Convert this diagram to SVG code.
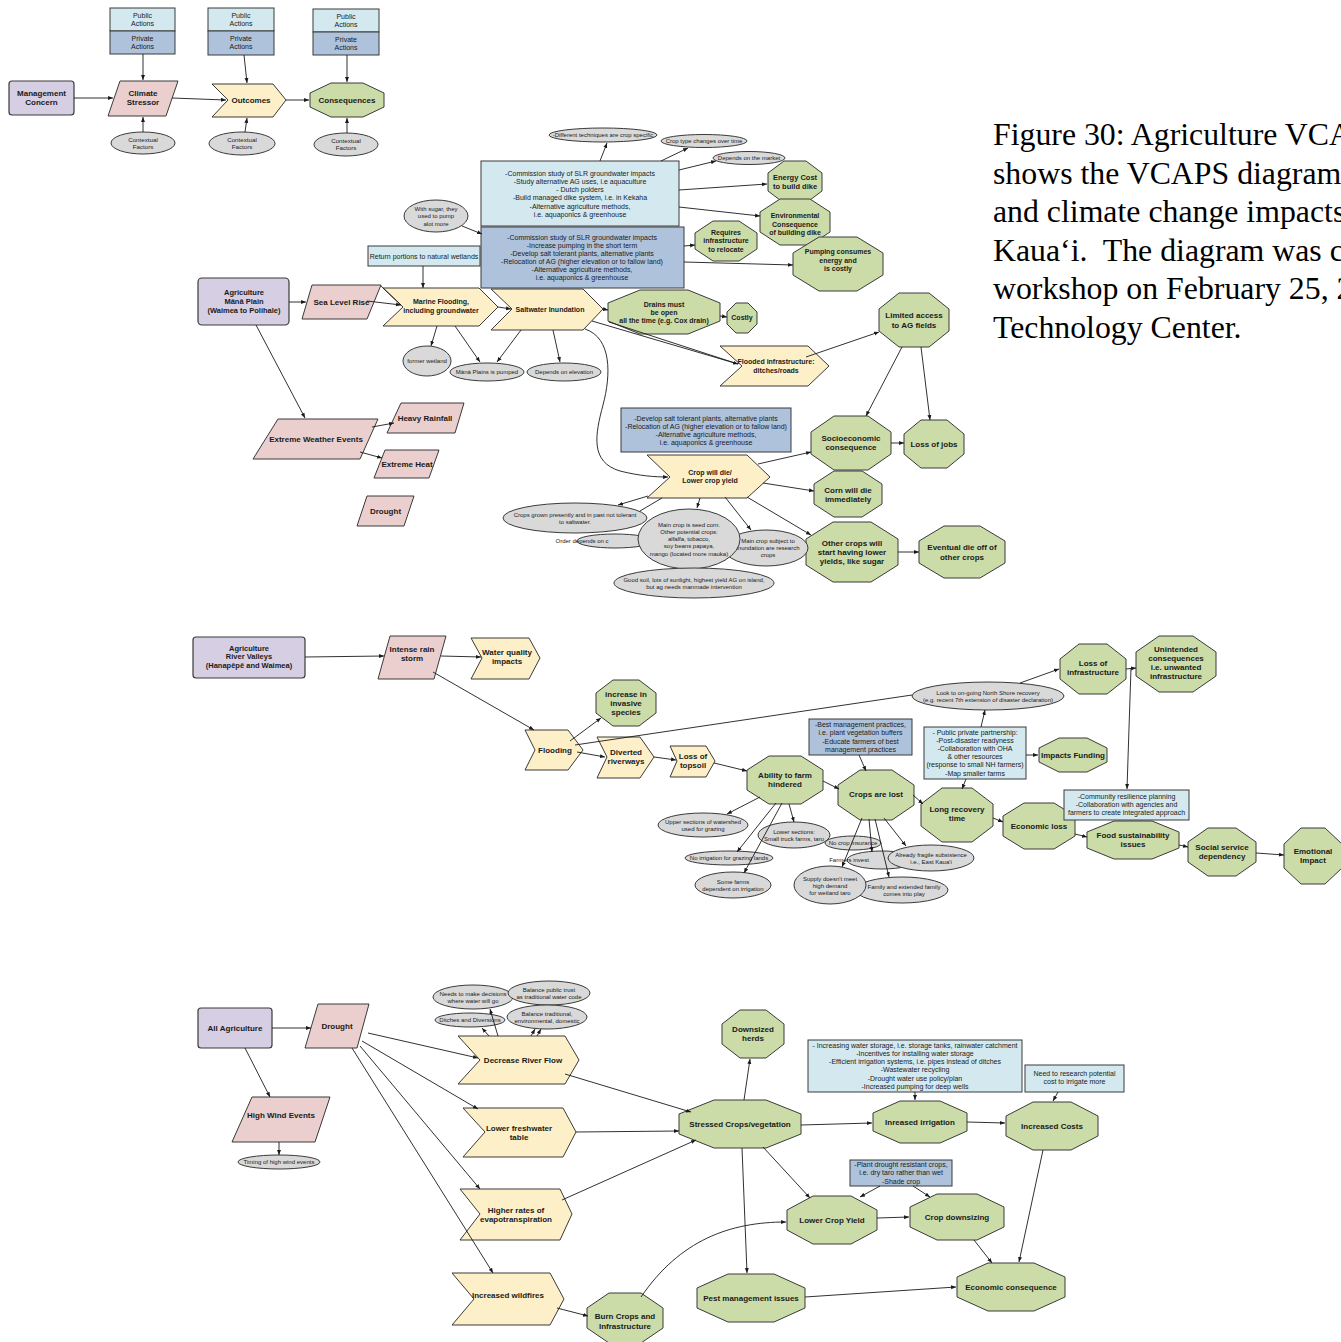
<svg xmlns="http://www.w3.org/2000/svg" width="1341" height="1342" viewBox="0 0 1341 1342">
<defs>
<marker id="a" viewBox="0 0 10 10" refX="10" refY="5" markerWidth="5.5" markerHeight="5.5" orient="auto"><path d="M0,1 L10,5 L0,9 z" fill="#1a1a1a"/></marker>
<style>
.mc{fill:#d6cee3;stroke:#3a3a3a;stroke-width:1.2}
.cs{fill:#eacfce;stroke:#3a3a3a;stroke-width:1}
.oc{fill:#fdf0c8;stroke:#3a3a3a;stroke-width:1}
.cq{fill:#cbdca8;stroke:#3a3a3a;stroke-width:1}
.pub{fill:#d3e9ef;stroke:#3a3a3a;stroke-width:1}
.prv{fill:#afc2dc;stroke:#3a3a3a;stroke-width:1}
.ctx{fill:#d9d9d9;stroke:#3a3a3a;stroke-width:1}
text{font-family:"Liberation Sans",Arial,sans-serif;text-anchor:middle;fill:#1a1a1a}
.b{font-weight:bold;font-size:8px}
.nb{font-weight:bold;font-size:7px}
.n{font-size:7px}
.lg{font-size:7px}
.cf{font-size:6.2px}
.e{font-size:6px}
.cap{font-family:"Liberation Serif","Times New Roman",serif;font-size:31.8px;text-anchor:start;fill:#000}
.c{fill:none;stroke:#1a1a1a;stroke-width:0.9;marker-end:url(#a)}
.l{fill:none;stroke:#1a1a1a;stroke-width:0.9}
</style>
</defs>
<rect width="1341" height="1342" fill="#fff"/>

<g id="caption">
<text class="cap" x="993" y="145">Figure 30: Agriculture VCA</text>
<text class="cap" x="993" y="183.5">shows the VCAPS diagram</text>
<text class="cap" x="993" y="222">and climate change impacts</text>
<text class="cap" x="993" y="260.5">Kaua‘i.&#160; The diagram was c</text>
<text class="cap" x="993" y="299">workshop on February 25, 2</text>
<text class="cap" x="993" y="337.5">Technology Center.</text>
</g>

<!-- Legend -->
<g id="legend-actions-1"><rect class="pub" x="110" y="8" width="65" height="23"/><rect class="prv" x="110" y="31" width="65" height="23"/>
<text class="lg" x="142.5" y="17.5">Public</text><text class="lg" x="142.5" y="25.5">Actions</text><text class="lg" x="142.5" y="40.5">Private</text><text class="lg" x="142.5" y="48.5">Actions</text></g>
<g id="legend-actions-2"><rect class="pub" x="208" y="8" width="66" height="23"/><rect class="prv" x="208" y="31" width="66" height="24"/>
<text class="lg" x="241" y="17.5">Public</text><text class="lg" x="241" y="25.5">Actions</text><text class="lg" x="241" y="40.5">Private</text><text class="lg" x="241" y="48.5">Actions</text></g>
<g id="legend-actions-3"><rect class="pub" x="313" y="9" width="66" height="23"/><rect class="prv" x="313" y="32" width="66" height="23"/>
<text class="lg" x="346" y="18.5">Public</text><text class="lg" x="346" y="26.5">Actions</text><text class="lg" x="346" y="41.5">Private</text><text class="lg" x="346" y="49.5">Actions</text></g>
<g id="legend-mc"><rect class="mc" x="9" y="81" width="65" height="34" rx="3"/><text class="b" x="41.5" y="96">Management</text><text class="b" x="41.5" y="105">Concern</text></g>
<g id="legend-cs"><polygon class="cs" points="120,81 178,81 166,116 108,116"/><text class="b" x="143" y="96">Climate</text><text class="b" x="143" y="105">Stressor</text></g>
<g id="legend-oc"><polygon class="oc" points="212,84 273,84 286,100 273,117 212,117 228,100"/><text class="b" x="251" y="102.8">Outcomes</text></g>
<g id="legend-cq"><polygon class="cq" points="331,83 363,83 384,93 384,107 363,117 331,117 310,107 310,93"/><text class="b" x="347" y="102.8">Consequences</text></g>
<g id="legend-ctx-1"><ellipse class="ctx" cx="143" cy="143" rx="32" ry="11"/><text class="cf" x="143" y="141.5">Contextual</text><text class="cf" x="143" y="148.8">Factors</text></g>
<g id="legend-ctx-2"><ellipse class="ctx" cx="242" cy="143.5" rx="33" ry="11.5"/><text class="cf" x="242" y="142">Contextual</text><text class="cf" x="242" y="149.3">Factors</text></g>
<g id="legend-ctx-3"><ellipse class="ctx" cx="346" cy="144.5" rx="32" ry="11.5"/><text class="cf" x="346" y="143">Contextual</text><text class="cf" x="346" y="150.3">Factors</text></g>

<!-- Section 1: Mana Plain -->
<g id="e-different"><ellipse class="ctx" cx="603" cy="135" rx="54" ry="7"/><text class="e" x="603" y="137.1">-Different techniques are crop specific</text></g>
<g id="e-croptype"><ellipse class="ctx" cx="704" cy="141" rx="43" ry="6.5"/><text class="e" x="704" y="143.1">Crop type changes over time</text></g>
<g id="e-market"><ellipse class="ctx" cx="749" cy="158" rx="36" ry="6.5"/><text class="e" x="749" y="160.1">Depends on the market</text></g>
<g id="pub-slr"><rect class="pub" x="481" y="161" width="198" height="65"/>
<text class="n" x="580" y="175.7">-Commission study of SLR groundwater impacts</text>
<text class="n" x="580" y="183.9">-Study alternative AG uses, i.e aquaculture</text>
<text class="n" x="580" y="192.1">- Dutch polders</text>
<text class="n" x="580" y="200.3">-Build managed dike system, i.e. in Kekaha</text>
<text class="n" x="580" y="208.5">-Alternative agriculture methods,</text>
<text class="n" x="580" y="216.7">i.e. aquaponics &amp; greenhouse</text></g>
<g id="prv-slr"><rect class="prv" x="481" y="227" width="203" height="61"/>
<text class="n" x="582" y="239.7">-Commission study of SLR groundwater impacts</text>
<text class="n" x="582" y="247.8">-Increase pumping in the short term</text>
<text class="n" x="582" y="255.9">-Develop salt tolerant plants, alternative plants</text>
<text class="n" x="582" y="264">-Relocation of AG (higher elevation or to fallow land)</text>
<text class="n" x="582" y="272.1">-Alternative agriculture methods,</text>
<text class="n" x="582" y="280.2">i.e. aquaponics &amp; greenhouse</text></g>
<g id="e-sugar"><ellipse class="ctx" cx="436" cy="216" rx="32" ry="16"/><text class="e" x="436" y="210.6">With sugar, they</text><text class="e" x="436" y="218.1">used to pump</text><text class="e" x="436" y="225.6">alot more</text></g>
<g id="pub-wetlands"><rect class="pub" x="368" y="246" width="112" height="20"/><text class="n" x="424" y="258.5">Return portions to natural wetlands</text></g>
<g id="cq-energy"><polygon class="cq" points="784,161 806,161 822,173 822,191 806,203 784,203 768,191 768,173"/><text class="b" x="795" y="180" style="font-size:7.5px">Energy Cost</text><text class="b" x="795" y="188.5" style="font-size:7.5px">to build dike</text></g>
<g id="cq-env"><polygon class="cq" points="780,199 810,199 830,212 830,232 810,245 780,245 760,232 760,212"/><text class="nb" x="795" y="218">Environmental</text><text class="nb" x="795" y="226.5">Consequence</text><text class="nb" x="795" y="235">of building dike</text></g>
<g id="cq-requires"><polygon class="cq" points="713,221 739,221 757,233 757,249 739,261 713,261 695,249 695,233"/><text class="nb" x="726" y="235.2">Requires</text><text class="nb" x="726" y="243.4">infrastructure</text><text class="nb" x="726" y="251.6">to relocate</text></g>
<g id="cq-pumping"><polygon class="cq" points="819,237 857,237 883,253 883,275 857,291 819,291 793,275 793,253"/><text class="nb" x="838" y="254.3">Pumping consumes</text><text class="nb" x="838" y="262.6">energy and</text><text class="nb" x="838" y="270.9">is costly</text></g>
<g id="mc-mana"><rect class="mc" x="198" y="278" width="91" height="47" rx="4"/><text class="nb" x="244" y="295" style="font-size:7.5px">Agriculture</text><text class="nb" x="244" y="303.8" style="font-size:7.5px">Mānā Plain</text><text class="nb" x="244" y="312.6" style="font-size:7.5px">(Waimea to Polihale)</text></g>
<g id="cs-slr"><polygon class="cs" points="312,285 381,285 367,319 302,319"/><text class="b" x="341.5" y="304.8">Sea Level Rise</text></g>
<g id="oc-marine"><polygon class="oc" points="383,288 479,288 498,307 479,326 383,326 403,307"/><text class="nb" x="441" y="304.3">Marine Flooding,</text><text class="nb" x="441" y="312.5">including groundwater</text></g>
<g id="oc-saltwater"><polygon class="oc" points="491,289 583,289 603,309 583,330 491,330 512,309"/><text class="nb" x="550" y="311.8">Saltwater Inundation</text></g>
<g id="cq-drains"><polygon class="cq" points="640,290 688,290 720,303 720,321 688,334 640,334 608,321 608,303"/><text class="nb" x="664" y="306.5">Drains must</text><text class="nb" x="664" y="314.5">be open</text><text class="nb" x="664" y="322.5">all the time (e.g. Cox drain)</text></g>
<g id="cq-costly"><polygon class="cq" points="736,303 748,303 757,312 757,324 748,333 736,333 727,324 727,312"/><text class="nb" x="742" y="320.4">Costly</text></g>
<g id="cq-limited"><polygon class="cq" points="899,293 929,293 949,309 949,331 929,347 899,347 879,331 879,309"/><text class="b" x="914" y="318">Limited access</text><text class="b" x="914" y="328">to AG fields</text></g>
<g id="oc-flooded"><polygon class="oc" points="720,346 808,346 829,366 808,386 720,386 742,366"/><text class="nb" x="776" y="364">Flooded infrastructure:</text><text class="nb" x="776" y="373">ditches/roads</text></g>
<g id="e-wetland"><ellipse class="ctx" cx="427" cy="361" rx="24" ry="15"/><text class="e" x="427" y="363.1">former wetland</text></g>
<g id="e-pumped"><ellipse class="ctx" cx="487" cy="372" rx="37" ry="9"/><text class="e" x="487" y="374.1">Mānā Plains is pumped</text></g>
<g id="e-elevation"><ellipse class="ctx" cx="564" cy="372" rx="37" ry="9"/><text class="e" x="564" y="374.1">Depends on elevation</text></g>
<g id="cs-extreme"><polygon class="cs" points="278,419 378,419 360,459 253,459"/><text class="b" x="316" y="441.8">Extreme Weather Events</text></g>
<g id="cs-rainfall"><polygon class="cs" points="401,403 464,403 455,433 387,433"/><text class="b" x="425" y="420.8">Heavy Rainfall</text></g>
<g id="cs-heat"><polygon class="cs" points="385,450 439,450 429,478 374,478"/><text class="b" x="407" y="466.8">Extreme Heat</text></g>
<g id="cs-drought1"><polygon class="cs" points="367,496 414,496 404,526 357,526"/><text class="b" x="385.5" y="513.8">Drought</text></g>
<g id="prv-crop"><rect class="prv" x="621" y="408" width="170" height="44"/>
<text class="n" x="706" y="420.5">-Develop salt tolerant plants, alternative plants</text>
<text class="n" x="706" y="428.6">-Relocation of AG (higher elevation or to fallow land)</text>
<text class="n" x="706" y="436.7">-Alternative agriculture methods,</text>
<text class="n" x="706" y="444.8">i.e. aquaponics &amp; greenhouse</text></g>
<g id="oc-cropdie"><polygon class="oc" points="647,455 747,455 770,477 747,498 647,498 670,477"/><text class="nb" x="710" y="474.5">Crop will die/</text><text class="nb" x="710" y="482.7">Lower crop yield</text></g>
<g id="cq-socio"><polygon class="cq" points="834,416 868,416 891,432 891,454 868,470 834,470 811,454 811,432"/><text class="b" x="851" y="440.5">Socioeconomic</text><text class="b" x="851" y="449.5">consequence</text></g>
<g id="cq-jobs"><polygon class="cq" points="921,420 947,420 964,434 964,454 947,468 921,468 904,454 904,434"/><text class="b" x="934" y="446.8">Loss of jobs</text></g>
<g id="cq-corn"><polygon class="cq" points="834,471 862,471 882,484 882,504 862,517 834,517 814,504 814,484"/><text class="b" x="848" y="492.5">Corn will die</text><text class="b" x="848" y="501.5">immediately</text></g>
<g id="cq-other"><polygon class="cq" points="833,522 871,522 898,539 898,565 871,582 833,582 806,565 806,539"/><text class="b" x="852" y="545.5">Other crops will</text><text class="b" x="852" y="554.5">start having lower</text><text class="b" x="852" y="563.5">yields, like sugar</text></g>
<g id="cq-eventual"><polygon class="cq" points="944,526 980,526 1005,541 1005,563 980,578 944,578 919,563 919,541"/><text class="b" x="962" y="549.5">Eventual die off of</text><text class="b" x="962" y="559.5">other crops</text></g>
<g id="e-order"><ellipse class="ctx" cx="615" cy="541" rx="38" ry="7"/><text class="e" x="582" y="543.1" text-anchor="start">Order depends on c</text></g>
<g id="e-grown"><ellipse class="ctx" cx="575" cy="518" rx="72" ry="15"/><text class="e" x="575" y="516.5">Crops grown presently and in past not tolerant</text><text class="e" x="575" y="523.7">to saltwater.</text></g>
<g id="e-research"><ellipse class="ctx" cx="766" cy="548" rx="42" ry="18"/><text class="e" x="768" y="542.9">Main crop subject to</text><text class="e" x="768" y="550.1">inundation are research</text><text class="e" x="768" y="557.3">crops</text></g>
<g id="e-maincrop"><ellipse class="ctx" cx="689" cy="539" rx="51" ry="30"/><text class="e" x="689" y="526.5">Main crop is seed corn.</text><text class="e" x="689" y="533.8">Other potential crops:</text><text class="e" x="689" y="541.1">alfalfa, tobacco,</text><text class="e" x="689" y="548.4">soy beans papaya,</text><text class="e" x="689" y="555.7">mango (located more mauka)</text></g>
<g id="e-soil"><ellipse class="ctx" cx="694" cy="583" rx="80" ry="15"/><text class="e" x="694" y="581.5">Good soil, lots of sunlight, highest yield AG on island,</text><text class="e" x="694" y="588.7">but ag needs manmade intervention</text></g>

<!-- Section 2: River Valleys -->
<g id="mc-river"><rect class="mc" x="193" y="637" width="112" height="41" rx="3"/><text class="nb" x="249" y="650.5" style="font-size:7.5px">Agriculture</text><text class="nb" x="249" y="659.3" style="font-size:7.5px">River Valleys</text><text class="nb" x="249" y="668.1" style="font-size:7.5px">(Hanapēpē and Waimea)</text></g>
<g id="cs-intense"><polygon class="cs" points="390,636 446,636 434,679 378,679"/><text class="b" x="412" y="652">Intense rain</text><text class="b" x="412" y="661">storm</text></g>
<g id="oc-waterq"><polygon class="oc" points="471,638 529,638 540,658 529,679 471,679 482,658"/><text class="b" x="507" y="655">Water quality</text><text class="b" x="507" y="664">impacts</text></g>
<g id="cq-invasive"><polygon class="cq" points="613,680 639,680 656,693 656,713 639,726 613,726 596,713 596,693"/><text class="b" x="626" y="696.5">increase in</text><text class="b" x="626" y="705.5">invasive</text><text class="b" x="626" y="714.5">species</text></g>
<g id="oc-flooding"><polygon class="oc" points="525,730 568,730 583,750 568,770 525,770 535,750"/><text class="b" x="555" y="752.8">Flooding</text></g>
<g id="oc-diverted"><polygon class="oc" points="597,737 640,737 654,757 640,778 597,778 607,757"/><text class="b" x="626" y="755">Diverted</text><text class="b" x="626" y="764">riverways</text></g>
<g id="oc-topsoil"><polygon class="oc" points="670,746 706,746 715,761 706,777 670,777 677,761"/><text class="b" x="693" y="759">Loss of</text><text class="b" x="693" y="768">topsoil</text></g>
<g id="cq-ability"><polygon class="cq" points="769,756 801,756 823,770 823,790 801,804 769,804 747,790 747,770"/><text class="b" x="785" y="777.5">Ability to farm</text><text class="b" x="785" y="786.5">hindered</text></g>
<g id="prv-bmp"><rect class="prv" x="809" y="719" width="103" height="36"/>
<text class="n" x="860.5" y="726.8">-Best management practices,</text>
<text class="n" x="860.5" y="735.2">i.e. plant vegetation buffers</text>
<text class="n" x="860.5" y="743.6">-Educate farmers of best</text>
<text class="n" x="860.5" y="752">management practices</text></g>
<g id="cq-cropslost"><polygon class="cq" points="860,770 892,770 914,785 914,805 892,820 860,820 838,805 838,785"/><text class="b" x="876" y="796.8">Crops are lost</text></g>
<g id="e-northshore"><ellipse class="ctx" cx="988" cy="696" rx="76" ry="14"/><text class="e" x="988" y="694.5">Look to on-going North Shore recovery</text><text class="e" x="988" y="701.7">(e.g. recent 7th extension of disaster declaration)</text></g>
<g id="pub-ppp"><rect class="pub" x="924" y="727" width="102" height="52"/>
<text class="n" x="975" y="734.5">- Public private partnership:</text>
<text class="n" x="975" y="742.7">-Post-disaster readyness</text>
<text class="n" x="975" y="750.9">-Collaboration with OHA</text>
<text class="n" x="975" y="759.1">&amp; other resources</text>
<text class="n" x="975" y="767.3">(response to small NH farmers)</text>
<text class="n" x="975" y="775.5">-Map smaller farms</text></g>
<g id="cq-funding"><polygon class="cq" points="1059,738 1087,738 1107,748 1107,762 1087,772 1059,772 1039,762 1039,748"/><text class="b" x="1073" y="757.8">Impacts Funding</text></g>
<g id="cq-recovery"><polygon class="cq" points="942,788 972,788 993,804 993,826 972,842 942,842 921,826 921,804"/><text class="b" x="957" y="812">Long recovery</text><text class="b" x="957" y="821">time</text></g>
<g id="cq-econloss"><polygon class="cq" points="1024,803 1054,803 1075,816 1075,836 1054,849 1024,849 1003,836 1003,816"/><text class="b" x="1039" y="828.8">Economic loss</text></g>
<g id="cq-lossinfra"><polygon class="cq" points="1079,644 1107,644 1126,659 1126,679 1107,694 1079,694 1060,679 1060,659"/><text class="b" x="1093" y="666">Loss of</text><text class="b" x="1093" y="675">infrastructure</text></g>
<g id="cq-unintended"><polygon class="cq" points="1159,636 1193,636 1216,652 1216,676 1193,692 1159,692 1136,676 1136,652"/><text class="b" x="1176" y="652">Unintended</text><text class="b" x="1176" y="661">consequences</text><text class="b" x="1176" y="670">i.e. unwanted</text><text class="b" x="1176" y="679">infrastructure</text></g>
<g id="pub-community"><rect class="pub" x="1064" y="790" width="125" height="30"/>
<text class="n" x="1126.5" y="799">-Community resilience planning</text>
<text class="n" x="1126.5" y="807.2">-Collaboration with agencies and</text>
<text class="n" x="1126.5" y="815.4">farmers to create integrated approach</text></g>
<g id="cq-food"><polygon class="cq" points="1114,821 1152,821 1179,832 1179,848 1152,859 1114,859 1087,848 1087,832"/><text class="b" x="1133" y="838">Food sustainability</text><text class="b" x="1133" y="847">issues</text></g>
<g id="cq-social"><polygon class="cq" points="1208,828 1236,828 1256,842 1256,862 1236,876 1208,876 1188,862 1188,842"/><text class="b" x="1222" y="850">Social service</text><text class="b" x="1222" y="859">dependency</text></g>
<g id="cq-emotional"><polygon class="cq" points="1301,828 1325,828 1342,844 1342,868 1325,884 1301,884 1284,868 1284,844"/><text class="b" x="1313" y="854">Emotional</text><text class="b" x="1313" y="863">Impact</text></g>
<g id="e-upper"><ellipse class="ctx" cx="703" cy="825" rx="45" ry="12"/><text class="e" x="703" y="823.5">Upper sections of watershed</text><text class="e" x="703" y="830.7">used for grazing</text></g>
<g id="e-noirr"><ellipse class="ctx" cx="729" cy="858" rx="44" ry="7"/><text class="e" x="729" y="860.1">No irrigation for grazing lands</text></g>
<g id="e-somefarms"><ellipse class="ctx" cx="733" cy="885" rx="38" ry="13"/><text class="e" x="733" y="883.5">Some farms</text><text class="e" x="733" y="890.7">dependent on irrigation</text></g>
<g id="e-insurance"><ellipse class="ctx" cx="853" cy="843" rx="28" ry="7"/><text class="e" x="853" y="845.1">No crop insurance</text></g>
<g id="e-lower"><ellipse class="ctx" cx="794" cy="835" rx="36" ry="13"/><text class="e" x="794" y="833.5">Lower sections:</text><text class="e" x="794" y="840.7">Small truck farms, taro</text></g>
<g id="e-invest"><ellipse class="ctx" cx="882" cy="860" rx="35" ry="9"/><text class="e" x="849" y="862.1" text-anchor="start">Farmers invest</text></g>
<g id="e-fragile"><ellipse class="ctx" cx="931" cy="858" rx="43" ry="13"/><text class="e" x="931" y="856.5">Already fragile subsistence</text><text class="e" x="931" y="863.7">i.e., East Kaua'i</text></g>
<g id="e-family"><ellipse class="ctx" cx="902" cy="890" rx="46" ry="13"/><text class="e" x="904" y="888.5">Family and extended family</text><text class="e" x="904" y="895.7">comes into play</text></g>
<g id="e-supply"><ellipse class="ctx" cx="830" cy="885" rx="36" ry="19"/><text class="e" x="830" y="880.9">Supply doesn't meet</text><text class="e" x="830" y="888.1">high demand</text><text class="e" x="830" y="895.3">for wetland taro</text></g>

<!-- Section 3: All Agriculture -->
<g id="mc-all"><rect class="mc" x="198" y="1008" width="74" height="40" rx="3"/><text class="b" x="235" y="1030.8">All Agriculture</text></g>
<g id="cs-drought"><polygon class="cs" points="318,1004 369,1004 357,1048 305,1048"/><text class="b" x="337" y="1028.8">Drought</text></g>
<g id="cs-wind"><polygon class="cs" points="252,1097 330,1097 315,1142 232,1142"/><text class="b" x="281" y="1117.8">High Wind Events</text></g>
<g id="e-timing"><ellipse class="ctx" cx="279" cy="1162" rx="41" ry="7"/><text class="e" x="279" y="1164.1">Timing of high wind events</text></g>
<g id="e-needs"><ellipse class="ctx" cx="473" cy="997" rx="40" ry="12"/><text class="e" x="473" y="995.5">Needs to make decisions</text><text class="e" x="473" y="1002.7">where water will go</text></g>
<g id="e-trust"><ellipse class="ctx" cx="549" cy="993" rx="41" ry="12"/><text class="e" x="549" y="991.5">Balance public trust</text><text class="e" x="549" y="998.7">as traditional water code</text></g>
<g id="e-ditches"><ellipse class="ctx" cx="470" cy="1020" rx="35" ry="7"/><text class="e" x="470" y="1022.1">Ditches and Diversions</text></g>
<g id="e-balance"><ellipse class="ctx" cx="547" cy="1017" rx="40" ry="12"/><text class="e" x="547" y="1015.5">Balance traditional,</text><text class="e" x="547" y="1022.7">environmental, domestic</text></g>
<g id="oc-river"><polygon class="oc" points="458,1036 565,1036 579,1060 565,1084 458,1084 480,1060"/><text class="b" x="523" y="1062.8">Decrease River Flow</text></g>
<g id="oc-fresh"><polygon class="oc" points="463,1108 563,1108 576,1132 563,1157 463,1157 485,1132"/><text class="b" x="519" y="1130.5">Lower freshwater</text><text class="b" x="519" y="1139.5">table</text></g>
<g id="oc-evap"><polygon class="oc" points="460,1189 560,1189 572,1214 560,1240 460,1240 480,1214"/><text class="b" x="516" y="1212.5">Higher rates of</text><text class="b" x="516" y="1221.5">evapotranspiration</text></g>
<g id="oc-wildfire"><polygon class="oc" points="452,1273 550,1273 564,1299 550,1325 452,1325 474,1299"/><text class="b" x="508" y="1297.8">Increased wildfires</text></g>
<g id="cq-burn"><polygon class="cq" points="609,1293 641,1293 663,1308 663,1328 641,1343 609,1343 587,1328 587,1308"/><text class="b" x="625" y="1319">Burn Crops and</text><text class="b" x="625" y="1329">Infrastructure</text></g>
<g id="cq-herds"><polygon class="cq" points="740,1010 766,1010 784,1024 784,1044 766,1058 740,1058 722,1044 722,1024"/><text class="b" x="753" y="1032">Downsized</text><text class="b" x="753" y="1041">herds</text></g>
<g id="cq-stressed"><polygon class="cq" points="714,1100 766,1100 801,1114 801,1134 766,1148 714,1148 679,1134 679,1114"/><text class="b" x="740" y="1126.8">Stressed Crops/vegetation</text></g>
<g id="pub-water"><rect class="pub" x="808" y="1040" width="214" height="52"/>
<text class="n" x="915" y="1047.5">- Increasing water storage, i.e. storage tanks, rainwater catchment</text>
<text class="n" x="915" y="1055.8">-Incentives for installing water storage</text>
<text class="n" x="915" y="1064.1">-Efficient irrigation systems, i.e. pipes instead of ditches</text>
<text class="n" x="915" y="1072.4">-Wastewater recycling</text>
<text class="n" x="915" y="1080.7">-Drought water use policy/plan</text>
<text class="n" x="915" y="1089">-Increased pumping for deep wells</text></g>
<g id="pub-research"><rect class="pub" x="1025" y="1065" width="99" height="27"/><text class="n" x="1074.5" y="1075.5">Need to research potential</text><text class="n" x="1074.5" y="1083.7">cost to irrigate more</text></g>
<g id="cq-irrigation"><polygon class="cq" points="900,1101 940,1101 967,1113 967,1131 940,1143 900,1143 873,1131 873,1113"/><text class="b" x="920" y="1124.8">Inreased irrigation</text></g>
<g id="cq-costs"><polygon class="cq" points="1033,1102 1071,1102 1098,1116 1098,1136 1071,1150 1033,1150 1006,1136 1006,1116"/><text class="b" x="1052" y="1128.8">Increased Costs</text></g>
<g id="prv-drought"><rect class="prv" x="850" y="1160" width="102" height="26"/><text class="n" x="901" y="1166.5">-Plant drought resistant crops,</text><text class="n" x="901" y="1175">i.e. dry taro rather than wet</text><text class="n" x="901" y="1183.5">-Shade crop</text></g>
<g id="cq-yield"><polygon class="cq" points="813,1196 851,1196 877,1210 877,1230 851,1244 813,1244 787,1230 787,1210"/><text class="b" x="832" y="1222.8">Lower Crop Yield</text></g>
<g id="cq-downsizing"><polygon class="cq" points="937,1194 977,1194 1004,1207 1004,1227 977,1240 937,1240 910,1227 910,1207"/><text class="b" x="957" y="1219.8">Crop downsizing</text></g>
<g id="cq-pest"><polygon class="cq" points="728,1274 774,1274 805,1288 805,1308 774,1322 728,1322 697,1308 697,1288"/><text class="b" x="751" y="1300.8">Pest management issues</text></g>
<g id="cq-econ"><polygon class="cq" points="988,1263 1034,1263 1065,1277 1065,1297 1034,1311 988,1311 957,1297 957,1277"/><text class="b" x="1011" y="1289.8">Economic consequence</text></g>

<g id="connectors">
<path class="c" d="M74,98 L113,98"/>
<path class="c" d="M172,98 L226,100"/>
<path class="c" d="M286,100 L309,100"/>
<path class="c" d="M143,54 L143,80"/>
<path class="c" d="M244,55 L247,83"/>
<path class="c" d="M347,55 L347,82"/>
<path class="c" d="M143,132 L143,117"/>
<path class="c" d="M245,132 L247,118"/>
<path class="c" d="M347,133 L347,118"/>

<path class="c" d="M289,302 L306,302"/>
<path class="c" d="M367,301 L401,305"/>
<path class="l" d="M381,286 L401,305"/>
<path class="c" d="M423,266 L423,288"/>
<path class="c" d="M462,226 L482,234"/>
<path class="c" d="M498,307 L511,309"/>
<path class="c" d="M603,309 L608,310"/>
<path class="c" d="M720,316 L727,317"/>
<path class="c" d="M592,321 L738,364"/>
<path class="l" d="M609,322 L738,364"/>
<path class="c" d="M806,357 L879,332"/>
<path class="c" d="M902,347 L866,416"/>
<path class="c" d="M921,347 L930,420"/>
<path class="c" d="M891,443 L904,443"/>
<path class="c" d="M585,329 C612,338 611,375 603,405 C595,435 590,462 620,471 C640,476 655,477 668,477"/>
<path class="c" d="M758,464 L811,452"/>
<path class="c" d="M763,483 L814,491"/>
<path class="c" d="M747,497 L811,535"/>
<path class="c" d="M898,552 L919,552"/>
<path class="c" d="M648,496 L618,505"/>
<path class="l" d="M662,498 L640,511"/>
<path class="c" d="M700,498 L697,508"/>
<path class="c" d="M725,497 L751,530"/>
<path class="c" d="M256,325 L305,418"/>
<path class="c" d="M372,427 L394,423"/>
<path class="c" d="M360,452 L382,458"/>
<path class="c" d="M437,326 L431,346"/>
<path class="c" d="M455,326 L480,362"/>
<path class="c" d="M521,330 L497,362"/>
<path class="c" d="M553,330 L560,362"/>
<path class="c" d="M600,161 L607,143"/>
<path class="c" d="M661,161 L688,148"/>
<path class="c" d="M679,170 L716,161"/>
<path class="c" d="M679,190 L767,184"/>
<path class="c" d="M679,207 L760,216"/>
<path class="c" d="M684,246 L695,245"/>
<path class="c" d="M684,262 L793,265"/>

<path class="c" d="M305,657 L384,656"/>
<path class="c" d="M441,656 L481,657"/>
<path class="c" d="M433,672 L534,730"/>
<path class="c" d="M570,741 L601,718"/>
<path class="l" d="M575,745 L912,695"/>
<path class="c" d="M1020,683 L1059,669"/>
<path class="c" d="M577,752 L605,757"/>
<path class="c" d="M654,757 L676,760"/>
<path class="c" d="M714,763 L747,771"/>
<path class="c" d="M823,781 L839,789"/>
<path class="c" d="M859,755 L866,771"/>
<path class="c" d="M913,795 L923,804"/>
<path class="c" d="M966,779 L962,789"/>
<path class="c" d="M981,727 L985,710"/>
<path class="c" d="M1026,755 L1038,755"/>
<path class="c" d="M993,818 L1003,822"/>
<path class="c" d="M1075,834 L1087,837"/>
<path class="c" d="M1179,845 L1188,847"/>
<path class="c" d="M1256,853 L1284,855"/>
<path class="c" d="M1126,669 L1136,668"/>
<path class="c" d="M1131,668 L1127,789"/>
<path class="c" d="M760,797 L727,814"/>
<path class="c" d="M776,803 L737,852"/>
<path class="c" d="M782,803 L744,873"/>
<path class="c" d="M789,804 L794,822"/>
<path class="c" d="M862,818 L842,867"/>
<path class="c" d="M869,819 L872,852"/>
<path class="c" d="M875,819 L889,877"/>
<path class="c" d="M884,818 L906,846"/>

<path class="c" d="M272,1028 L311,1028"/>
<path class="c" d="M245,1048 L270,1097"/>
<path class="c" d="M279,1142 L279,1155"/>
<path class="c" d="M368,1033 L478,1058"/>
<path class="c" d="M362,1041 L478,1109"/>
<path class="c" d="M360,1046 L480,1189"/>
<path class="c" d="M352,1048 L493,1273"/>
<path class="c" d="M489,1036 L482,1028"/>
<path class="c" d="M498,1036 L490,1009"/>
<path class="c" d="M531,1036 L535,1029"/>
<path class="c" d="M537,1036 L541,1029"/>
<path class="c" d="M565,1074 L691,1112"/>
<path class="c" d="M576,1132 L679,1131"/>
<path class="c" d="M562,1200 L696,1140"/>
<path class="c" d="M557,1308 L588,1316"/>
<path class="c" d="M641,1297 C680,1240 730,1222 786,1222"/>
<path class="c" d="M744,1100 L750,1059"/>
<path class="c" d="M801,1125 L872,1123"/>
<path class="c" d="M763,1147 L810,1198"/>
<path class="c" d="M742,1148 L747,1273"/>
<path class="c" d="M915,1092 L915,1100"/>
<path class="c" d="M967,1122 L1005,1123"/>
<path class="c" d="M1058,1092 L1053,1101"/>
<path class="c" d="M880,1186 L860,1197"/>
<path class="c" d="M913,1186 L930,1197"/>
<path class="c" d="M877,1218 L909,1217"/>
<path class="c" d="M974,1240 L992,1263"/>
<path class="c" d="M1043,1150 L1019,1262"/>
<path class="c" d="M805,1297 L956,1287"/>
</g>
</svg>
